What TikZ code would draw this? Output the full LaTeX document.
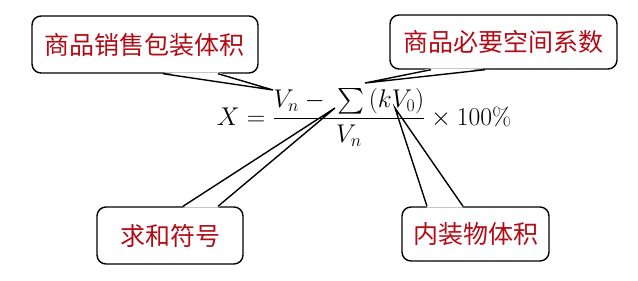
\documentclass[tikz,border=0pt]{standalone}
\usepackage{amsmath}
\usepackage{fontspec}
\newfontfamily\cjk{Noto Sans CJK SC}
\definecolor{lab}{RGB}{178,12,22}
\begin{document}
\begin{tikzpicture}[x=1pt,y=-1pt,
  box/.style={draw, line width=1.4pt, rounded corners=9pt, fill=white, inner sep=0pt,
    text=lab, font=\cjk\fontsize{25}{25}\selectfont},
  tailfill/.style={fill=white},
  tailline/.style={draw, line width=1.4pt, line join=miter}]
\useasboundingbox (0,0) rectangle (638,281);
\fill[white] (0,0) rectangle (638,281);
% boxes
\node[box, minimum width=226pt, minimum height=57pt] (b1) at (145,44.5) {商品销售包装体积};
\node[box, minimum width=227pt, minimum height=54pt] (b2) at (503.5,42) {商品必要空间系数};
\node[box, minimum width=146pt, minimum height=57pt] (b3) at (170,235.5) {求和符号};
\node[box, minimum width=147pt, minimum height=54pt] (b4) at (475.5,234) {内装物体积};
% tips
\coordinate (t1) at (273,90);
\coordinate (t2) at (365,83);
\coordinate (t3) at (335,108);
\coordinate (t4) at (395,108);
% tail base points
\coordinate (p1a) at ([xshift=18pt]b1.south);
\coordinate (p1b) at ([xshift=73pt]b1.south);
\coordinate (p2a) at ([xshift=-72.5pt]b2.south);
\coordinate (p2b) at ([xshift=-18.5pt]b2.south);
\coordinate (p3a) at ([xshift=13pt]b3.north);
\coordinate (p3b) at ([xshift=48pt]b3.north);
\coordinate (p4a) at ([xshift=-48.5pt]b4.north);
\coordinate (p4b) at ([xshift=-12.5pt]b4.north);
% tails
\fill[tailfill] ([yshift=1.4pt]p1a) -- (t1) -- ([yshift=1.4pt]p1b) -- cycle;
\draw[tailline] (p1a) -- (t1) -- (p1b);
\fill[tailfill] ([yshift=1.4pt]p2a) -- (t2) -- ([yshift=1.4pt]p2b) -- cycle;
\draw[tailline] (p2a) -- (t2) -- (p2b);
\fill[tailfill] ([yshift=-1.4pt]p3a) -- (t3) -- ([yshift=-1.4pt]p3b) -- cycle;
\draw[tailline] (p3a) -- (t3) -- (p3b);
\fill[tailfill] ([yshift=-1.4pt]p4a) -- (t4) -- ([yshift=-1.4pt]p4b) -- cycle;
\draw[tailline] (p4a) -- (t4) -- (p4b);
% formula
\node[inner sep=0pt] (f) at (364,117.5) {\scalebox{1.03}{\fontsize{24}{24}\selectfont $X=\dfrac{V_n-\;\sum\,(kV_0)}{V_n}\times 100\%$}};
\end{tikzpicture}
\end{document}
